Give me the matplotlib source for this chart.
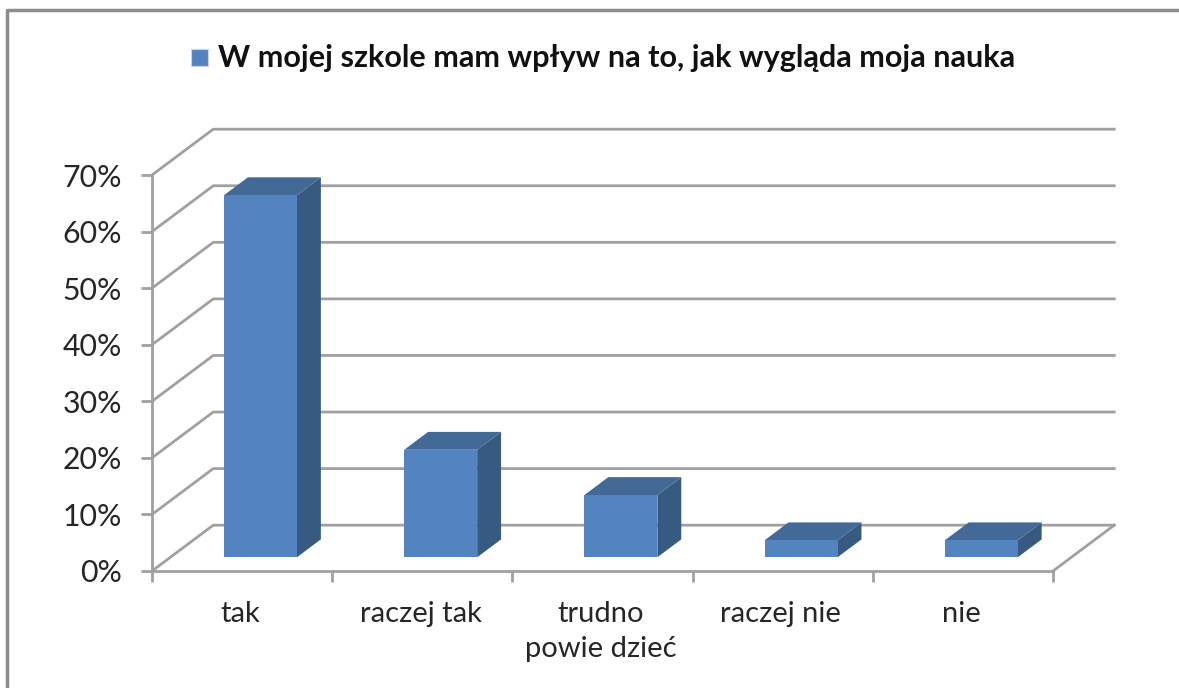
import matplotlib
matplotlib.use("Agg")
import matplotlib.pyplot as plt
from matplotlib.patches import Polygon, Rectangle

categories = ["tak", "raczej tak", "trudno\npowie dzieć", "raczej nie", "nie"]
values = [64, 19, 11, 3, 3]
y_ticks = [0, 10, 20, 30, 40, 50, 60, 70]
title = "W mojej szkole mam wpływ na to, jak wygląda moja nauka"

FRONT = "#5484bf"
TOP = "#436a97"
SIDE = "#375a80"
GRID = "#a0a0a0"

W, H = 1179, 688
# fake 3d: depth of the floor in data units
DEPTH_X = 0.34
DEPTH_Y = 8.1
BAR_W = 0.405
NEAR, FAR = 0.30, 0.69

plt.rcParams["font.family"] = ["Lato", "DejaVu Sans"]

fig = plt.figure(figsize=(W / 100, H / 100), dpi=100)
# front plane of the chart in pixels: x 152-1053, y 175-571
ax = fig.add_axes([152 / W, 1 - 571 / H, (1053 - 152) / W, (571 - 175) / H])
ax.set_xlim(0, 5)
ax.set_ylim(0, 70)
ax.patch.set_visible(False)
for s in ["top", "right"]:
    ax.spines[s].set_visible(False)
for s in ["left", "bottom"]:
    ax.spines[s].set_color(GRID)
    ax.spines[s].set_linewidth(2)

ax.set_yticks(y_ticks)
ax.set_yticklabels([f"{v}%" for v in y_ticks], fontsize=21.8, color="#262626")
ax.set_xticks(range(6))
ax.set_xticklabels([""] * 6)
ax.tick_params(axis="both", color=GRID, width=2, length=8)
ax.tick_params(axis="y", pad=13.5)

# walls and floor
for v in y_ticks:
    ax.plot([0, DEPTH_X, 5 + DEPTH_X], [v, v + DEPTH_Y, v + DEPTH_Y],
            color=GRID, lw=2, clip_on=False, zorder=1)
ax.plot([5, 5 + DEPTH_X], [0, DEPTH_Y], color=GRID, lw=2, clip_on=False, zorder=1)

# bars
for i, v in enumerate(values):
    x0 = i + (1 - BAR_W) / 2 + NEAR * DEPTH_X
    x1 = x0 + BAR_W
    y0 = NEAR * DEPTH_Y
    dx = (FAR - NEAR) * DEPTH_X
    dy = (FAR - NEAR) * DEPTH_Y
    ax.add_patch(Polygon([(x1, y0), (x1 + dx, y0 + dy), (x1 + dx, y0 + v + dy), (x1, y0 + v)],
                         fc=SIDE, ec="none", clip_on=False, zorder=3))
    ax.add_patch(Polygon([(x0, y0 + v), (x1, y0 + v), (x1 + dx, y0 + v + dy), (x0 + dx, y0 + v + dy)],
                         fc=TOP, ec="none", clip_on=False, zorder=3))
    ax.add_patch(Rectangle((x0, y0), BAR_W, v, fc=FRONT, ec="none", clip_on=False, zorder=4))

# category labels
for i, c in enumerate(categories):
    ax.text(i + 0.49, -5.3, c, ha="center", va="top", fontsize=21, color="#262626",
            linespacing=1.45, clip_on=False)

# legend entry used as title
fig.add_artist(Rectangle((191 / W, 1 - 66 / H), 17 / W, 17 / H, transform=fig.transFigure,
                         fc=FRONT, ec="#c5d5ea", lw=0.8))
fig.text(218 / W, 1 - 58 / H, title, ha="left", va="center", fontsize=22.1,
         fontweight="bold", color="#111111")

# outer frame
fig.add_artist(plt.Line2D([7 / W, 7 / W, 1], [0, 1 - 10 / H, 1 - 10 / H],
                          transform=fig.transFigure, color="#8c8c8c", lw=2.5))

fig.savefig("out.png", dpi=100, facecolor="white")
